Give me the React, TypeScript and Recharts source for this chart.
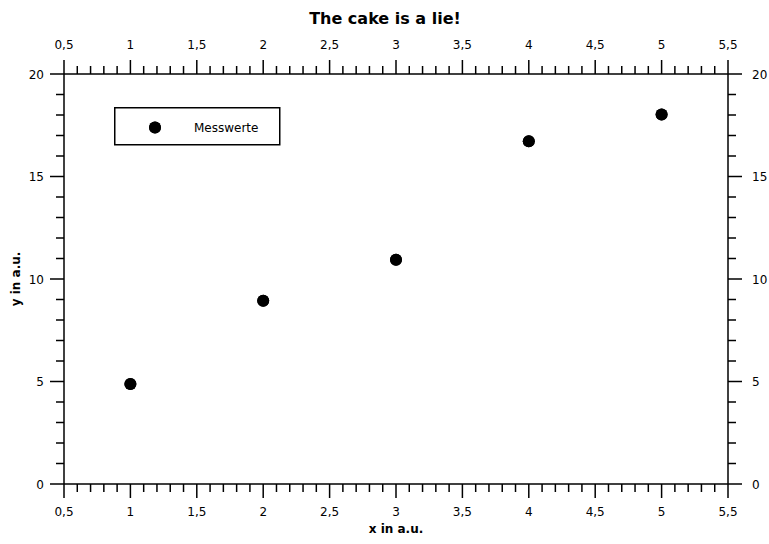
import React from 'react';
import { ScatterChart, Scatter, XAxis, YAxis, Legend, Label } from 'recharts';

const xValues = [1, 2, 3, 4, 5];
const yValues = [4.88, 8.94, 10.94, 16.72, 18.03];
const seriesName = 'Messwerte';

const xMajorTicks = [0.5, 1, 1.5, 2, 2.5, 3, 3.5, 4, 4.5, 5, 5.5];
const yMajorTicks = [0, 5, 10, 15, 20];
const xDomain = [0.5, 5.5];
const yDomain = [0, 20];

const title = 'The cake is a lie!';
const xTitle = 'x in a.u.';
const yTitle = 'y in a.u.';

const data = xValues.map((x, i) => ({ x, y: yValues[i] }));

const xTicks: number[] = [];
for (let i = 5; i <= 55; i++) xTicks.push(i / 10);
const yTicks: number[] = [];
for (let i = 0; i <= 20; i++) yTicks.push(i);

const fmt = (v: number) => String(v).replace('.', ',');
const isXMajor = (v: number) => xMajorTicks.some((m) => Math.abs(m - v) < 1e-9);
const isYMajor = (v: number) => yMajorTicks.some((m) => Math.abs(m - v) < 1e-9);

const MAJ = 14;
const MIN = 8;
const SW = 1.5;
const FONT = 12;

const BottomTick = (p: any) => {
  const { x, y, payload } = p;
  const major = isXMajor(payload.value);
  return (
    <g>
      <line x1={x} y1={y} x2={x} y2={y + (major ? MAJ : MIN)} stroke="#000" strokeWidth={SW} />
      {major && (
        <text x={x} y={y + 32} textAnchor="middle" fontSize={FONT} fill="#000">
          {fmt(payload.value)}
        </text>
      )}
    </g>
  );
};

const TopTick = (p: any) => {
  const { x, y, payload } = p;
  const major = isXMajor(payload.value);
  return (
    <g>
      <line x1={x} y1={y} x2={x} y2={y - (major ? MAJ : MIN)} stroke="#000" strokeWidth={SW} />
      {major && (
        <text x={x} y={y - 25} textAnchor="middle" fontSize={FONT} fill="#000">
          {fmt(payload.value)}
        </text>
      )}
    </g>
  );
};

const LeftTick = (p: any) => {
  const { x, y, payload } = p;
  const major = isYMajor(payload.value);
  return (
    <g>
      <line x1={x} y1={y} x2={x - (major ? MAJ : MIN)} y2={y} stroke="#000" strokeWidth={SW} />
      {major && (
        <text x={x - 20} y={y + 4.5} textAnchor="end" fontSize={FONT} fill="#000">
          {fmt(payload.value)}
        </text>
      )}
    </g>
  );
};

const RightTick = (p: any) => {
  const { x, y, payload } = p;
  const major = isYMajor(payload.value);
  return (
    <g>
      <line x1={x} y1={y} x2={x + (major ? MAJ : MIN)} y2={y} stroke="#000" strokeWidth={SW} />
      {major && (
        <text x={x + 24} y={y + 4.5} textAnchor="start" fontSize={FONT} fill="#000">
          {fmt(payload.value)}
        </text>
      )}
    </g>
  );
};

const LegendBox = (props: any) => {
  const items = props.payload || [];
  return (
    <svg width={167} height={39} style={{ display: 'block' }}>
      <rect x={0.75} y={0.75} width={165} height={37} fill="#fff" stroke="#000" strokeWidth={1.5} />
      {items.map((it: any, i: number) => (
        <g key={i}>
          <circle cx={41} cy={20.5} r={6} fill="#000" />
          <text x={80} y={25} fontSize={FONT} fill="#000">
            {it.value}
          </text>
        </g>
      ))}
    </svg>
  );
};

const Dot = (p: any) => <circle cx={p.cx} cy={p.cy} r={6} fill="#000" />;

export default function App() {
  return (
    <div
      style={{
        position: 'absolute',
        left: 0,
        top: 0,
        width: 769,
        height: 544,
        fontFamily: '"DejaVu Sans", Verdana, sans-serif',
      }}
    >
      <ScatterChart width={769} height={544} margin={{ top: 0, right: 0, bottom: 0, left: 0 }}>
        <XAxis
          xAxisId="bottom"
          dataKey="x"
          type="number"
          orientation="bottom"
          domain={xDomain}
          ticks={xTicks}
          interval={0}
          allowDataOverflow
          height={60}
          tickSize={0}
          tickMargin={0}
          tickLine={false}
          axisLine={{ stroke: '#000', strokeWidth: SW }}
          tick={<BottomTick />}
        >
          <Label
            content={(lp: any) => {
              const vb = lp.viewBox;
              return (
                <text x={vb.x + vb.width / 2} y={vb.y + 49} textAnchor="middle" fontSize={12} fontWeight="bold" fill="#000">
                  {xTitle}
                </text>
              );
            }}
          />
        </XAxis>
        <XAxis
          xAxisId="top"
          dataKey="x"
          type="number"
          orientation="top"
          domain={xDomain}
          ticks={xTicks}
          interval={0}
          allowDataOverflow
          height={74}
          tickSize={0}
          tickMargin={0}
          tickLine={false}
          axisLine={{ stroke: '#000', strokeWidth: SW }}
          tick={<TopTick />}
        >
          <Label
            content={() => (
              <text x={385} y={24} textAnchor="middle" fontSize={16} fontWeight="bold" fill="#000">
                {title}
              </text>
            )}
          />
        </XAxis>
        <YAxis
          yAxisId="left"
          dataKey="y"
          type="number"
          orientation="left"
          domain={yDomain}
          ticks={yTicks}
          interval={0}
          allowDataOverflow
          width={64}
          tickSize={0}
          tickMargin={0}
          tickLine={false}
          axisLine={{ stroke: '#000', strokeWidth: SW }}
          tick={<LeftTick />}
        >
          <Label
            content={(lp: any) => {
              const vb = lp.viewBox;
              const cx = 20;
              const cy = vb.y + vb.height / 2;
              return (
                <text
                  x={cx}
                  y={cy}
                  transform={`rotate(-90 ${cx} ${cy})`}
                  textAnchor="middle"
                  fontSize={12}
                  fontWeight="bold"
                  fill="#000"
                >
                  {yTitle}
                </text>
              );
            }}
          />
        </YAxis>
        <YAxis
          yAxisId="right"
          dataKey="y"
          type="number"
          orientation="right"
          domain={yDomain}
          ticks={yTicks}
          interval={0}
          allowDataOverflow
          width={41}
          tickSize={0}
          tickMargin={0}
          tickLine={false}
          axisLine={{ stroke: '#000', strokeWidth: SW }}
          tick={<RightTick />}
        />
        <Legend
          layout="horizontal"
          verticalAlign="middle"
          align="center"
          content={<LegendBox />}
          wrapperStyle={{ left: 114, top: 107, width: 167, height: 39 }}
        />
        <Scatter
          name={seriesName}
          data={data}
          xAxisId="bottom"
          yAxisId="left"
          fill="#000"
          shape={<Dot />}
          isAnimationActive={false}
        />
        <Scatter
          data={data}
          xAxisId="top"
          yAxisId="right"
          fill="#000"
          shape={<Dot />}
          legendType="none"
          isAnimationActive={false}
        />
      </ScatterChart>
    </div>
  );
}
